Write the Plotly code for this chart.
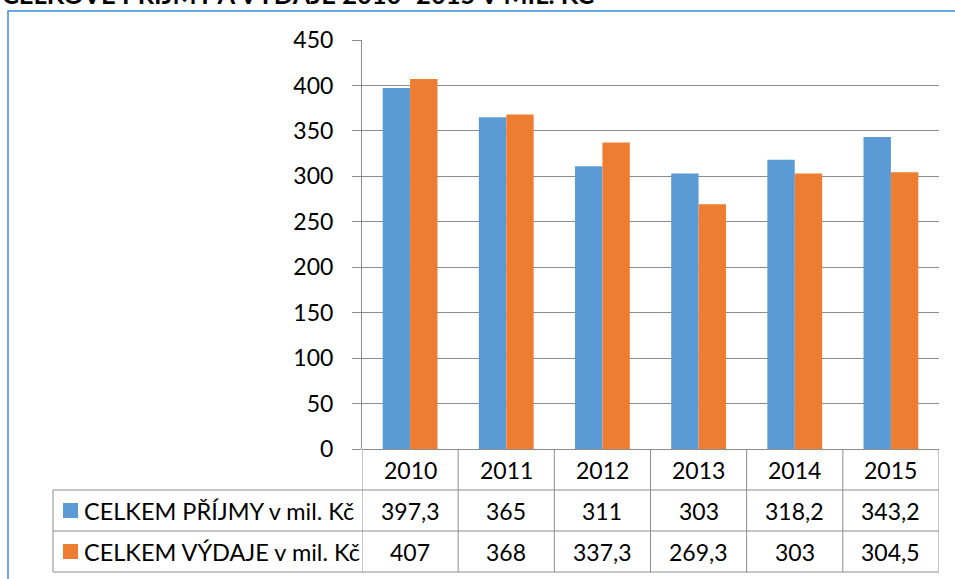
import plotly.graph_objects as go

years = ["2010", "2011", "2012", "2013", "2014", "2015"]
prijmy = [397.3, 365, 311, 303, 318.2, 343.2]
vydaje = [407, 368, 337.3, 269.3, 303, 304.5]
series_names = ["CELKEM PŘÍJMY v mil. Kč", "CELKEM VÝDAJE v mil. Kč"]
y_ticks = [0, 50, 100, 150, 200, 250, 300, 350, 400, 450]
title_text = "CELKOVÉ PŘÍJMY A VÝDAJE 2010–2015 V MIL. KČ"

BLUE = "#5B9BD5"
ORANGE = "#ED7D31"
GRID = "#8c8c8c"
FONT = "Lato, 'Liberation Sans', sans-serif"

W, H = 955, 579
# screen pixel positions of the plot area
SX0, SX1, SY0, SY1 = 362, 939, 40, 449
L = SX0
R = W - SX1
T = SY0
B = H - SY1
PW = W - L - R
PH = H - T - B


def px_x(p):
    return (p - SX0) / PW


def px_y(p):
    return (SY1 - p) / PH


def fmt(v):
    return ("%g" % v).replace(".", ",")


fig = go.Figure()
fig.add_trace(go.Bar(x=years, y=prijmy, name=series_names[0], marker=dict(color=BLUE, line=dict(width=0))))
fig.add_trace(go.Bar(x=years, y=vydaje, name=series_names[1], marker=dict(color=ORANGE, line=dict(width=0))))

shapes = []
annotations = []

# outer chart border
shapes.append(dict(type="rect", xref="paper", yref="paper",
                   x0=px_x(8), x1=px_x(W + 30), y0=px_y(H + 30), y1=px_y(11),
                   line=dict(color="#3A8EDB", width=1.5), fillcolor="rgba(0,0,0,0)", layer="below"))

row_y = [449, 490, 531, 572]
line_style = dict(color=GRID, width=1)
for ry in row_y[1:]:
    shapes.append(dict(type="line", xref="paper", yref="paper",
                       x0=px_x(53), x1=1, y0=px_y(ry), y1=px_y(ry), line=line_style))
n = len(years)
for i in range(n + 1):
    shapes.append(dict(type="line", xref="x", yref="paper",
                       x0=i - 0.5, x1=i - 0.5, y0=px_y(449), y1=px_y(572), line=line_style))
shapes.append(dict(type="line", xref="paper", yref="paper",
                   x0=px_x(53), x1=px_x(53), y0=px_y(490), y1=px_y(572), line=line_style))

cell_font = dict(family=FONT, size=23, color="#000000")
label_font = dict(family=FONT, size=23.5, color="#000000")
for i, yr in enumerate(years):
    annotations.append(dict(x=i, y=px_y(470), xref="x", yref="paper", text=yr,
                            showarrow=False, font=cell_font, xanchor="center", yanchor="middle"))
for ri, (vals, color, nm) in enumerate([(prijmy, BLUE, series_names[0]), (vydaje, ORANGE, series_names[1])]):
    cy = (row_y[ri + 1] + row_y[ri + 2]) / 2
    for i, v in enumerate(vals):
        annotations.append(dict(x=i, y=px_y(cy), xref="x", yref="paper", text=fmt(v),
                                showarrow=False, font=cell_font, xanchor="center", yanchor="middle"))
    shapes.append(dict(type="rect", xref="paper", yref="paper",
                       x0=px_x(63), x1=px_x(78), y0=px_y(cy + 7.5), y1=px_y(cy - 7.5),
                       fillcolor=color, line=dict(width=0)))
    annotations.append(dict(x=px_x(82), y=px_y(cy), xref="paper", yref="paper", text=nm,
                            showarrow=False, font=label_font, xanchor="left", yanchor="middle"))

# title (cut off at the top, as in the reference)
annotations.append(dict(x=px_x(0), y=px_y(11), xref="paper", yref="paper", text="<b>" + title_text + "</b>",
                        showarrow=False, font=dict(family=FONT, size=25.5, color="#000000"),
                        xanchor="left", yanchor="bottom"))

fig.update_layout(
    width=W, height=H,
    margin=dict(l=L, r=R, t=T, b=B, pad=0),
    paper_bgcolor="white", plot_bgcolor="white",
    barmode="group", bargap=0.43, bargroupgap=0,
    showlegend=False,
    shapes=shapes, annotations=annotations,
    font=dict(family=FONT, size=22, color="#000000"),
)
fig.update_xaxes(showticklabels=False, showgrid=False, showline=False, ticks="",
                 range=[-0.5, n - 0.5])
fig.update_yaxes(range=[0, 450], tickvals=y_ticks, showgrid=True, gridcolor=GRID, gridwidth=1,
                 showline=True, linecolor=GRID, linewidth=1, ticks="outside", ticklen=9,
                 tickcolor=GRID, tickfont=dict(family=FONT, size=23, color="#000000"),
                 ticklabelstandoff=14, zeroline=True, zerolinecolor=GRID, zerolinewidth=1)

fig.write_html("out.html", config={"displayModeBar": False},
               post_script="document.body.style.margin='0';document.body.style.overflow='hidden';")
